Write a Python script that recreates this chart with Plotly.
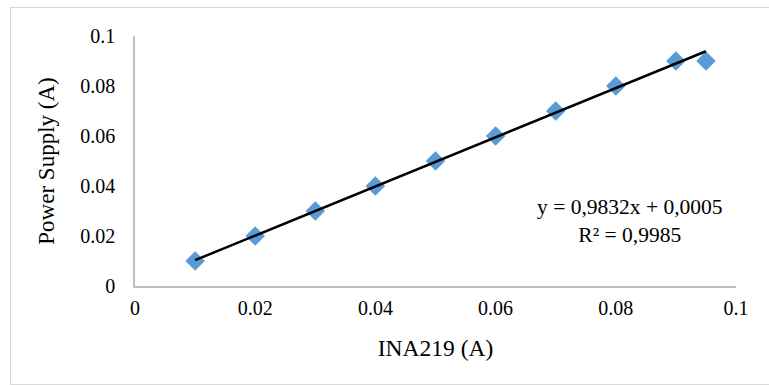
import numpy as np
import plotly.graph_objects as go

# Data
ina219 = [0.01, 0.02, 0.03, 0.04, 0.05, 0.06, 0.07, 0.08, 0.09, 0.095]
power_supply = [0.01, 0.02, 0.03, 0.04, 0.05, 0.06, 0.07, 0.08, 0.09, 0.09]
slope = 0.9832
intercept = 0.0005
r2 = 0.9985
tick_vals = [0, 0.02, 0.04, 0.06, 0.08, 0.1]
tick_text = ["0", "0.02", "0.04", "0.06", "0.08", "0.1"]

trend_x = [min(ina219), max(ina219)]
trend_y = [slope * v + intercept for v in trend_x]

FONT = "Liberation Serif"

fig = go.Figure()
fig.add_trace(go.Scatter(
    x=ina219, y=power_supply, mode="markers",
    marker=dict(symbol="diamond", size=15, color="#5b9bd5", line=dict(width=0)),
    showlegend=False, cliponaxis=False,
))
fig.add_trace(go.Scatter(
    x=trend_x, y=trend_y, mode="lines",
    line=dict(color="black", width=2.5),
    showlegend=False, cliponaxis=False,
))

eq_text = "y = 0,9832x + 0,0005<br>R² = 0,9985"

fig.add_annotation(
    x=0.824, y=0.262, xref="paper", yref="paper",
    text=eq_text, showarrow=False, align="center",
    font=dict(family=FONT, size=21.5, color="black"),
    xanchor="center", yanchor="middle",
)

# outer chart border
fig.add_shape(
    type="rect", xref="paper", yref="paper",
    x0=(10.5 - 135) / 601, x1=(770 - 135) / 601,
    y0=(286 - 384.5) / 250, y1=(286 - 7.5) / 250,
    line=dict(color="#d9d9d9", width=1), fillcolor="rgba(0,0,0,0)", layer="below",
)

axis_common = dict(
    showline=True, linecolor="#bfbfbf", linewidth=1.5,
    showgrid=False, zeroline=False, ticks="",
    tickfont=dict(family=FONT, size=20, color="black"),
    tickvals=tick_vals, ticktext=tick_text,
)

fig.update_layout(
    width=769, height=385,
    margin=dict(l=135, r=33, t=36, b=99),
    paper_bgcolor="white", plot_bgcolor="white",
    font=dict(family=FONT),
    xaxis=dict(range=[0, 0.1], **axis_common,
               title=dict(text="INA219 (A)", font=dict(family=FONT, size=23.5, color="black"), standoff=22)),
    yaxis=dict(range=[0, 0.1], **axis_common,
               title=dict(text="Power Supply (A)", font=dict(family=FONT, size=23, color="black"), standoff=19)),
)
fig.update_xaxes(automargin=False, ticklabelstandoff=3)
fig.update_yaxes(automargin=False, ticklabelstandoff=14)

fig.write_html("out.html", config={"displayModeBar": False},
               post_script="document.body.style.margin='0';document.body.style.overflow='hidden';")
